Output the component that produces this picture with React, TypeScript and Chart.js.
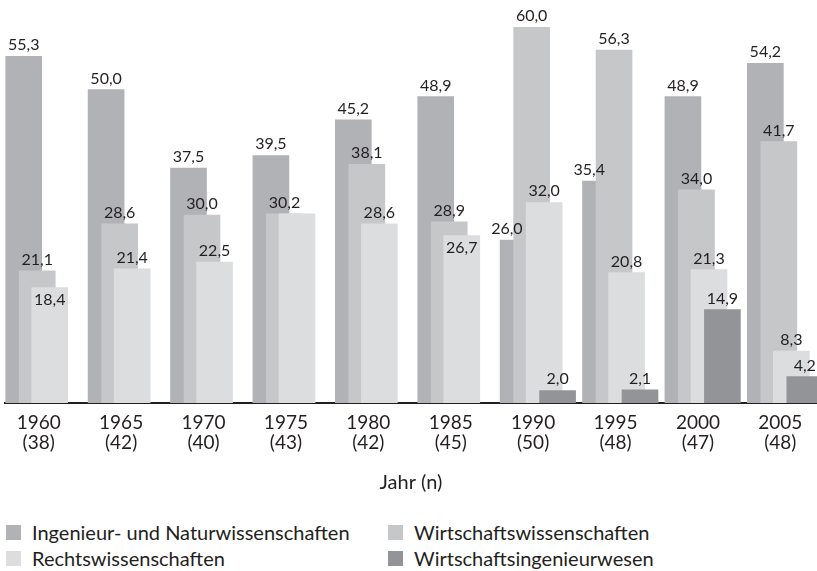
import React, { useEffect, useRef } from 'react';
import { Chart, registerables } from 'chart.js';

Chart.register(...registerables);

// ---- data ----
const years = ['1960', '1965', '1970', '1975', '1980', '1985', '1990', '1995', '2000', '2005'];
const sampleSizes = ['38', '42', '40', '43', '42', '45', '50', '48', '47', '48'];

const ingenieurNatur = [55.3, 50.0, 37.5, 39.5, 45.2, 48.9, 26.0, 35.4, 48.9, 54.2];
const wirtschaft = [21.1, 28.6, 30.0, 30.2, 38.1, 28.9, 60.0, 56.3, 34.0, 41.7];
const recht = [18.4, 21.4, 22.5, 30.2, 28.6, 26.7, 32.0, 20.8, 21.3, 8.3];
const wirtschaftsIng: (number | null)[] = [null, null, null, null, null, null, 2.0, 2.1, 14.9, 4.2];

const seriesNames = [
  'Ingenieur- und Naturwissenschaften',
  'Wirtschaftswissenschaften',
  'Rechtswissenschaften',
  'Wirtschaftsingenieurwesen',
];
const seriesValues: (number | null)[][] = [ingenieurNatur, wirtschaft, recht, wirtschaftsIng];
const seriesColors = ['#b1b2b5', '#c6c7c9', '#dcdddf', '#939497'];

// layout constants (not data)
const SLOT_OFFSETS = [-0.182, -0.018, 0.134, 0.297];
const TEXT = '#231f20';
const FONT = 'Lato';
const CANVAS_W = 817;
const CANVAS_H = 505;

const fmt = (v: number) => v.toFixed(1).replace('.', ',');

const labelPlugin = {
  id: 'barValueLabels',
  afterDatasetsDraw(chart: any) {
    const ctx = chart.ctx;
    ctx.save();
    ctx.font = `16px ${FONT}`;
    ctx.fillStyle = TEXT;
    ctx.textAlign = 'center';
    ctx.textBaseline = 'alphabetic';
    const digitH = 11.5;
    const gap = 6;
    const margin = 4;
    const placed: { x1: number; x2: number; y1: number; y2: number; text: string }[] = [];
    for (let c = 0; c < years.length; c++) {
      const bars: { d: number; x: number; y: number; w: number; v: number }[] = [];
      chart.data.datasets.forEach((ds: any, d: number) => {
        const meta = chart.getDatasetMeta(d);
        meta.data.forEach((el: any, j: number) => {
          const p = ds.data[j];
          if (p.cat === c) bars.push({ d, x: el.x, y: el.y, w: el.width, v: p.y });
        });
      });
      bars.sort((a, b) => a.d - b.d);
      bars.forEach((b, bi) => {
        let left = b.x - b.w / 2;
        let right = b.x + b.w / 2;
        for (let k = bi + 1; k < bars.length; k++) {
          const o = bars[k];
          const oLeft = o.x - o.w / 2;
          if (o.y < b.y - 0.5 && oLeft > left && oLeft < right) right = oLeft;
        }
        const cx = (left + right) / 2;
        const text = fmt(b.v);
        const tw = ctx.measureText(text).width;
        let base = b.y - gap;
        let box = { x1: cx - tw / 2, x2: cx + tw / 2, y1: base - digitH, y2: base, text };
        const hit = placed.find(
          (p) => p.x1 < box.x2 && p.x2 > box.x1 && p.y1 - margin < box.y2 + margin && p.y2 + margin > box.y1 - margin
        );
        if (hit) {
          if (hit.text === text) return;
          base = b.y + gap + digitH;
          box = { x1: cx - tw / 2, x2: cx + tw / 2, y1: base - digitH, y2: base, text };
        }
        placed.push(box);
        ctx.fillText(text, cx, base);
      });
    }
    ctx.restore();
  },
};

export default function App() {
  const canvasRef = useRef<HTMLCanvasElement | null>(null);

  useEffect(() => {
    const canvas = canvasRef.current;
    if (!canvas) return;
    const datasets = seriesValues.map((vals, k) => ({
      label: seriesNames[k],
      data: vals
        .map((v, i) => ({ x: i + SLOT_OFFSETS[k], y: v, cat: i }))
        .filter((p) => p.y !== null),
      backgroundColor: seriesColors[k],
      borderWidth: 0,
      grouped: false,
      barThickness: 36,
      order: seriesValues.length - 1 - k,
    }));

    const chart = new Chart(canvas, {
      type: 'bar',
      data: { datasets } as any,
      plugins: [labelPlugin],
      options: {
        responsive: false,
        animation: false,
        devicePixelRatio: 1,
        layout: { padding: { top: 27, left: 5, right: 0, bottom: 0 } },
        plugins: {
          legend: { display: false },
          tooltip: { enabled: false },
        },
        scales: {
          x: {
            type: 'linear',
            min: -0.409,
            max: 9.445,
            offset: false,
            grid: { display: false, drawTicks: false },
            border: { display: true, color: TEXT, width: 2 },
            afterBuildTicks: (axis: any) => {
              axis.ticks = years.map((_, i) => ({ value: i }));
            },
            afterFit: (scale: any) => {
              scale.height = CANVAS_H - 403;
            },
            ticks: {
              autoSkip: false,
              maxRotation: 0,
              padding: 10,
              color: TEXT,
              font: { family: FONT, size: 19, lineHeight: '20px' },
              callback: (_v: any, i: number) => [years[i], `(${sampleSizes[i]})`],
            },
            title: {
              display: true,
              text: 'Jahr (n)',
              color: TEXT,
              font: { family: FONT, size: 20 },
              padding: { top: 0, bottom: 10 },
            },
          },
          y: {
            display: false,
            min: 0,
            max: 60,
          },
        },
      } as any,
    });
    return () => chart.destroy();
  }, []);

  const legendItem = (k: number) => (
    <div key={k} style={{ display: 'flex', alignItems: 'flex-start', height: 15 }}>
      <div style={{ width: 15, height: 15, background: seriesColors[k], flex: '0 0 15px' }} />
      <span
        style={{
          marginLeft: 11,
          fontFamily: FONT,
          fontSize: 20,
          lineHeight: '15px',
          color: TEXT,
          whiteSpace: 'nowrap',
        }}
      >
        {seriesNames[k]}
      </span>
    </div>
  );

  return (
    <div style={{ position: 'absolute', left: 0, top: 0, width: CANVAS_W, height: 571, background: '#fff' }}>
      <canvas
        ref={canvasRef}
        width={CANVAS_W}
        height={CANVAS_H}
        style={{ position: 'absolute', left: 0, top: 0, width: CANVAS_W, height: CANVAS_H }}
      />
      <div
        style={{
          position: 'absolute',
          left: 6,
          top: 525,
          display: 'grid',
          gridTemplateColumns: '382px auto',
          rowGap: 11,
        }}
      >
        {[0, 1, 2, 3].map((k) => legendItem(k))}
      </div>
    </div>
  );
}
